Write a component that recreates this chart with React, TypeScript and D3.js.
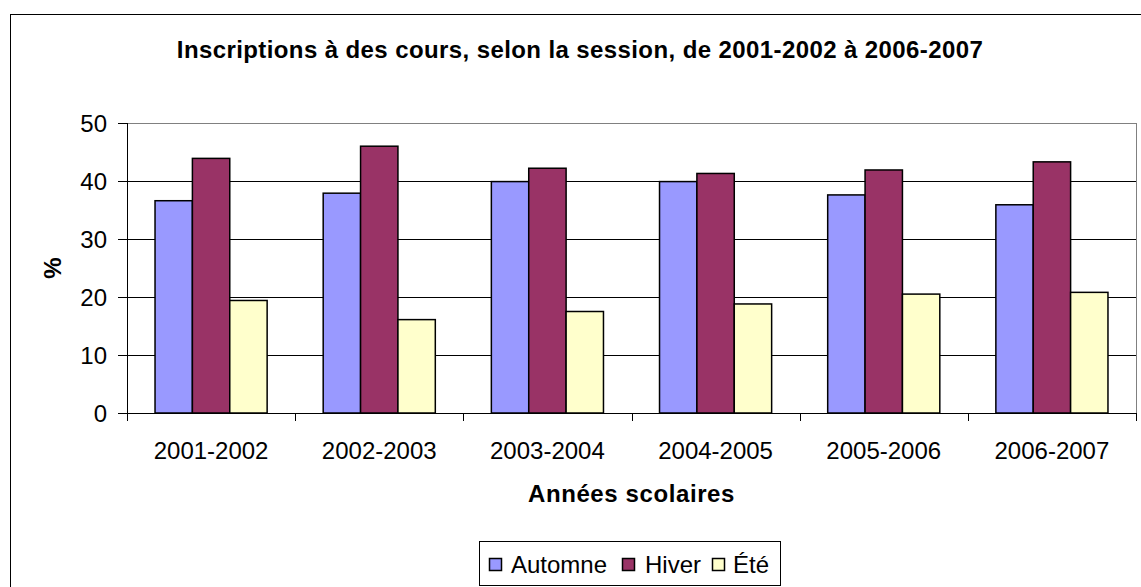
import React from 'react';
import * as d3 from 'd3';

const years = ['2001-2002', '2002-2003', '2003-2004', '2004-2005', '2005-2006', '2006-2007'];
const sessions = ['Automne', 'Hiver', 'Été'];
const automne = [36.6, 37.9, 39.9, 39.9, 37.6, 35.9];
const hiver = [43.9, 46.0, 42.2, 41.3, 41.9, 43.3];
const ete = [19.4, 16.1, 17.5, 18.8, 20.5, 20.8];
const yTicks = [0, 10, 20, 30, 40, 50];

const seriesValues = [automne, hiver, ete];
const colors = ['#9999FF', '#993366', '#FFFFCC'];

const W = 1141;
const H = 587;
const plot = { left: 127, right: 1136, top: 123, bottom: 413 };
const font = '"Liberation Sans", Arial, sans-serif';

const App = () => {
  // échelles
  const x = d3.scaleBand<string>().domain(years).range([plot.left, plot.right]).paddingInner(0).paddingOuter(0);
  const xInner = d3.scaleBand<string>().domain(sessions).range([0, x.bandwidth()]).paddingInner(0).paddingOuter(0.75);
  const y = d3.scaleLinear().domain([0, 50]).range([plot.bottom, plot.top]);

  const boundaries = [...years.map(d => x(d) as number), plot.right];

  // positions de la légende
  const legendItems = [
    { label: 'Automne', sq: 489, tx: 511 },
    { label: 'Hiver', sq: 622, tx: 645 },
    { label: 'Été', sq: 712, tx: 733 },
  ];

  return (
    <svg width={W} height={H} style={{ position: 'absolute', left: 0, top: 0, background: '#fff' }} fontFamily={font}>
      <rect x={10.5} y={14.5} width={1150} height={620} fill="#fff" stroke="#000" strokeWidth={1} />

      <text x={580} y={58} textAnchor="middle" fontSize={24} fontWeight="bold" letterSpacing={0.4}>
        Inscriptions à des cours, selon la session, de 2001-2002 à 2006-2007
      </text>

      {/* grille */}
      {yTicks.map(t => (
        <line key={'g' + t} x1={plot.left} x2={plot.right} y1={Math.round(y(t)) + 0.5} y2={Math.round(y(t)) + 0.5}
          stroke={t === 50 ? '#808080' : '#000'} strokeWidth={1} />
      ))}
      <line x1={plot.right + 0.5} x2={plot.right + 0.5} y1={plot.top} y2={plot.bottom} stroke="#808080" />

      {/* barres */}
      {years.map((yr, i) => (
        <g key={yr} transform={`translate(${x(yr)},0)`}>
          {sessions.map((s, j) => {
            const v = seriesValues[j][i];
            return (
              <rect key={s} x={xInner(s)} y={y(v)} width={xInner.bandwidth()} height={y(0) - y(v)}
                fill={colors[j]} stroke="#000" strokeWidth={1.5} />
            );
          })}
        </g>
      ))}

      {/* axes */}
      <line x1={plot.left + 0.5} x2={plot.left + 0.5} y1={plot.top} y2={plot.bottom + 1} stroke="#000" />
      <line x1={plot.left} x2={plot.right + 1} y1={plot.bottom + 0.5} y2={plot.bottom + 0.5} stroke="#000" />
      {yTicks.map(t => (
        <g key={'t' + t}>
          <line x1={118} x2={plot.left} y1={Math.round(y(t)) + 0.5} y2={Math.round(y(t)) + 0.5} stroke="#000" />
          <text x={107} y={y(t)} dy="0.36em" textAnchor="end" fontSize={24}>{t}</text>
        </g>
      ))}
      {boundaries.map((b, i) => (
        <line key={'b' + i} x1={Math.round(b) + 0.5} x2={Math.round(b) + 0.5} y1={plot.bottom} y2={plot.bottom + 8} stroke="#000" />
      ))}
      {years.map(yr => (
        <text key={'l' + yr} x={(x(yr) as number) + x.bandwidth() / 2} y={459} textAnchor="middle" fontSize={24}>{yr}</text>
      ))}

      <text x={(plot.left + plot.right) / 2} y={502} textAnchor="middle" fontSize={24} fontWeight="bold" letterSpacing={0.6}>
        Années scolaires
      </text>
      <text transform={`translate(61,${(plot.top + plot.bottom) / 2}) rotate(-90)`} textAnchor="middle" fontSize={24} fontWeight="bold">
        %
      </text>

      {/* légende */}
      <rect x={479.5} y={541.5} width={301} height={44} fill="#fff" stroke="#000" />
      {legendItems.map((it, j) => (
        <g key={it.label}>
          <rect x={it.sq + 0.5} y={558.5} width={12} height={12} fill={colors[j]} stroke="#000" strokeWidth={1.5} />
          <text x={it.tx} y={573} fontSize={24}>{it.label}</text>
        </g>
      ))}
    </svg>
  );
};

export default App;
